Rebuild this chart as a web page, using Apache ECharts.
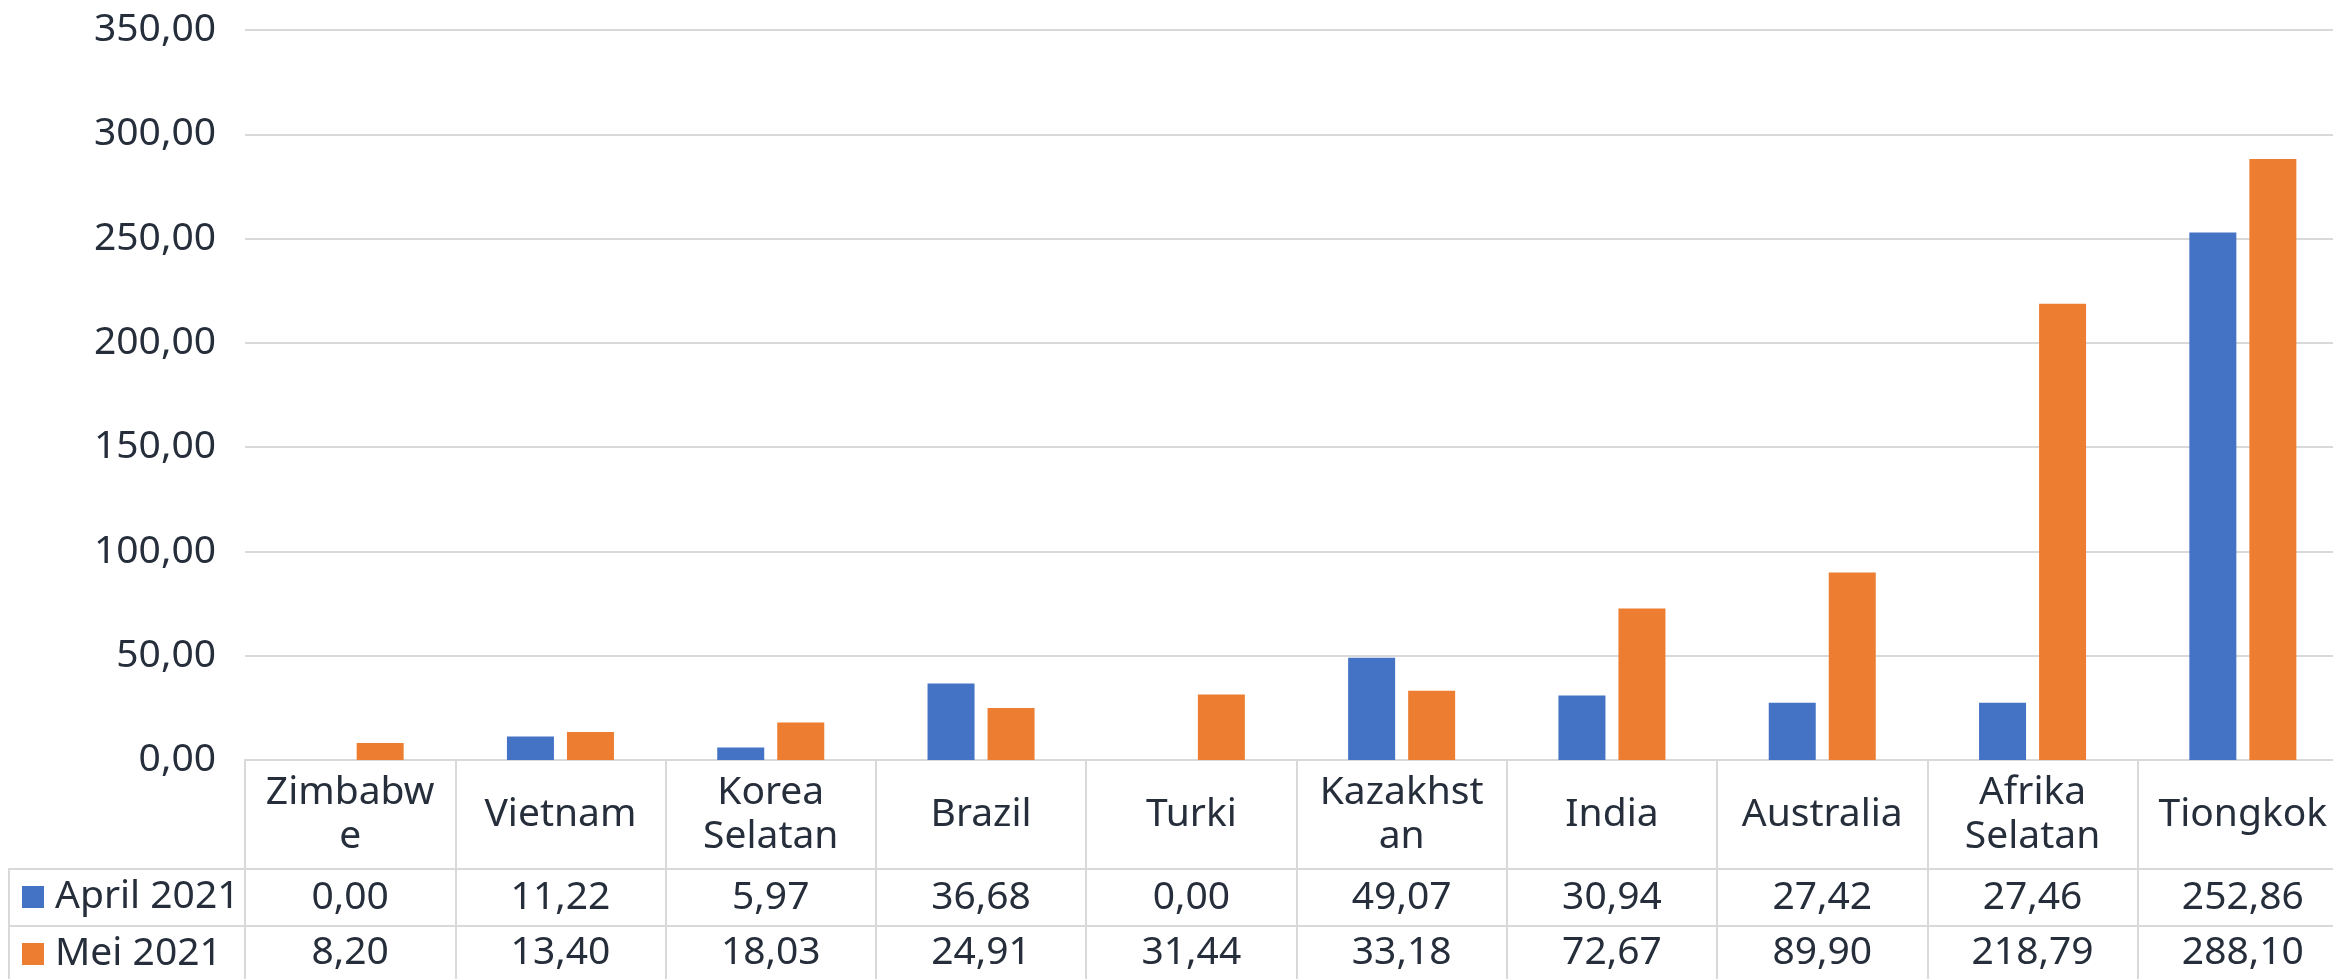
<!DOCTYPE html>
<html>
<head>
<meta charset="utf-8">
<script src="https://cdn.jsdelivr.net/npm/echarts@6/dist/echarts.min.js"></script>
<style>
  html, body { margin: 0; padding: 0; background: #fff; }
  #chart { width: 2333px; height: 979px; }
</style>
</head>
<body>
<div id="chart"></div>
<script>
var negara = ['Zimbabwe', 'Vietnam', 'Korea Selatan', 'Brazil', 'Turki', 'Kazakhstan', 'India', 'Australia', 'Afrika Selatan', 'Tiongkok'];
var april2021 = [0.00, 11.22, 5.97, 36.68, 0.00, 49.07, 30.94, 27.42, 27.46, 252.86];
var mei2021 = [8.20, 13.40, 18.03, 24.91, 31.44, 33.18, 72.67, 89.90, 218.79, 288.10];
// header text as it wraps in the table cells
var labelHeader = {
    'Zimbabwe': 'Zimbabw\ne',
    'Korea Selatan': 'Korea\nSelatan',
    'Kazakhstan': 'Kazakhst\nan',
    'Afrika Selatan': 'Afrika\nSelatan'
};

var teks = '#252e3a';
var garis = '#d9d9d9';
var huruf = '"Noto Sans", sans-serif';

function fmt(v) {
    return v.toFixed(2).replace('.', ',');
}

var myChart = echarts.init(document.getElementById('chart'), null, {renderer: 'canvas'});
var option = {
    backgroundColor: '#ffffff',
    animation: false,
    textStyle: {fontFamily: huruf},
    color: ['#4472C4', '#ED7D31'],
    legend: {
        orient: 'vertical',
        left: 22,
        top: 877,
        padding: 0,
        height: 100,
        itemWidth: 22,
        itemHeight: 22,
        itemGap: 17,
        icon: 'rect',
        textStyle: {fontSize: 39, color: teks, lineHeight: 40, fontFamily: huruf, padding: [0, 0, 0, 6]},
        data: ['April 2021', 'Mei 2021']
    },
    grid: {
        left: 245,
        right: -15,
        top: 30,
        height: 730,
        containLabel: false,
        outerBoundsMode: 'none'
    },
    xAxis: [
        {
            type: 'category',
            data: negara,
            position: 'bottom',
            axisLine: {show: true, lineStyle: {color: garis, width: 2}},
            axisTick: {show: true, length: 230, lineStyle: {color: garis, width: 2}},
            axisLabel: {
                interval: 0,
                fontSize: 39,
                lineHeight: 44,
                color: teks,
                fontFamily: huruf,
                margin: 55,
                verticalAlign: 'middle',
                formatter: function (v) {
                    return labelHeader[v] || v;
                }
            },
            splitLine: {show: false}
        },
        {
            type: 'category',
            data: april2021.map(fmt),
            position: 'bottom',
            offset: 109,
            axisLine: {show: true, lineStyle: {color: garis, width: 2}},
            axisTick: {show: false},
            axisLabel: {interval: 0, fontSize: 39, color: teks, fontFamily: huruf, margin: 29, verticalAlign: 'middle'},
            splitLine: {show: false}
        },
        {
            type: 'category',
            data: mei2021.map(fmt),
            position: 'bottom',
            offset: 166,
            axisLine: {show: true, lineStyle: {color: garis, width: 2}},
            axisTick: {show: false},
            axisLabel: {interval: 0, fontSize: 39, color: teks, fontFamily: huruf, margin: 27, verticalAlign: 'middle'},
            splitLine: {show: false}
        }
    ],
    yAxis: {
        type: 'value',
        min: 0,
        max: 350,
        interval: 50,
        axisLine: {show: false},
        axisTick: {show: false},
        axisLabel: {fontSize: 39, color: teks, fontFamily: huruf, margin: 29, formatter: fmt},
        splitLine: {show: true, lineStyle: {color: garis, width: 2}}
    },
    graphic: [
        // legend column borders of the data table
        {type: 'line', shape: {x1: 9, y1: 869, x2: 245, y2: 869}, style: {stroke: garis, lineWidth: 2}},
        {type: 'line', shape: {x1: 9, y1: 926, x2: 245, y2: 926}, style: {stroke: garis, lineWidth: 2}},
        {type: 'line', shape: {x1: 9, y1: 868, x2: 9, y2: 979}, style: {stroke: garis, lineWidth: 2}}
    ],
    series: [
        {
            name: 'April 2021',
            type: 'bar',
            xAxisIndex: 0,
            data: april2021,
            barWidth: 47,
            barGap: '27.7%',
            itemStyle: {color: '#4472C4'}
        },
        {
            name: 'Mei 2021',
            type: 'bar',
            xAxisIndex: 0,
            data: mei2021,
            barWidth: 47,
            barGap: '27.7%',
            itemStyle: {color: '#ED7D31'}
        }
    ]
};
myChart.setOption(option);
</script>
</body>
</html>
